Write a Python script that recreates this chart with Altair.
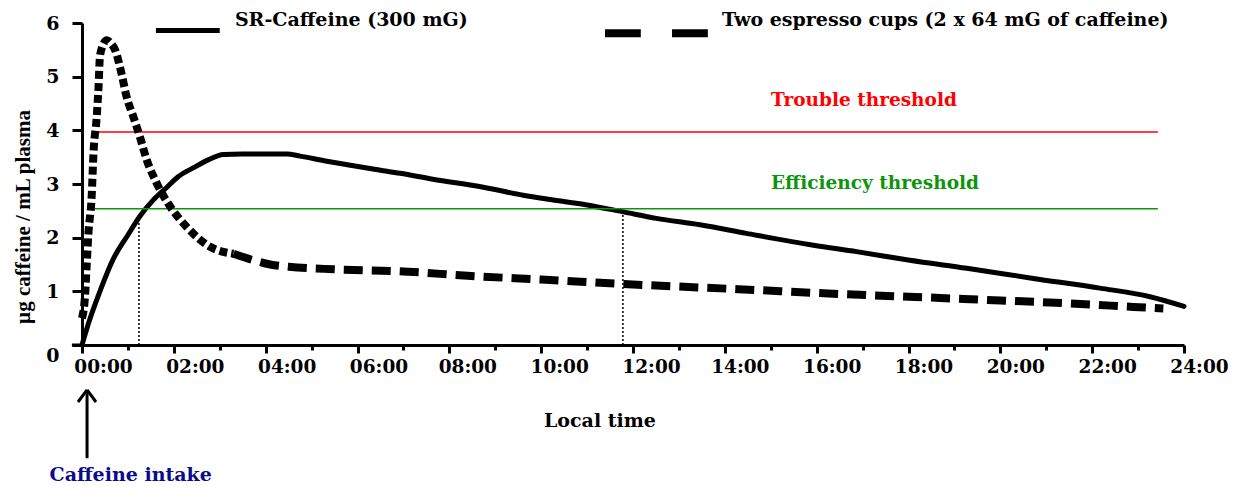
import altair as alt
import pandas as pd

# ---------------- data ----------------
sr_hours = [0, 0.14, 0.39, 0.68, 1.0, 1.26, 1.55, 1.85, 2.1, 2.42, 2.75, 3.08, 3.5, 4.0, 4.46,
            4.75, 5.3, 5.84, 6.4, 6.93, 7.64, 8.74, 9.61, 10.2, 11.0, 11.79, 12.51, 13.46,
            14.47, 15.93, 16.87, 18.03, 19.27, 20.72, 22.17, 23.26, 24.0]
sr_conc = [0, 0.4, 1.0, 1.6, 2.05, 2.4, 2.7, 2.94, 3.14, 3.3, 3.45, 3.55, 3.56, 3.56, 3.56,
           3.52, 3.43, 3.35, 3.27, 3.2, 3.09, 2.94, 2.79, 2.71, 2.61, 2.48, 2.36, 2.24,
           2.08, 1.86, 1.74, 1.58, 1.43, 1.24, 1.06, 0.9, 0.72]

esp_hours = [0, 0.07, 0.1, 0.14, 0.21, 0.25, 0.32, 0.36, 0.39, 0.44, 0.54, 0.63, 0.72, 0.86,
             0.97, 1.12, 1.26, 1.41, 1.63, 1.92, 2.28, 2.79, 3.3, 3.73, 4.1, 4.5, 5.5, 7.0,
             8.4, 10.0, 12.2, 14.3, 16.5, 18.0, 20.0, 21.4, 22.9, 23.55]
esp_conc = [0.5, 0.97, 1.46, 2.08, 2.76, 3.57, 4.25, 4.81, 5.37, 5.55, 5.68, 5.62, 5.5, 5.06,
            4.63, 4.25, 3.88, 3.45, 3.01, 2.58, 2.2, 1.83, 1.7, 1.58, 1.5, 1.46, 1.41, 1.37,
            1.29, 1.22, 1.12, 1.04, 0.95, 0.9, 0.83, 0.78, 0.71, 0.68]

x_tick_values = list(range(0, 25))
y_tick_values = [i * 0.5 for i in range(13)]

series_names = ["SR-Caffeine (300 mG)", "Two espresso cups (2 x 64 mG of caffeine)"]
threshold_names = ["Trouble threshold", "Efficiency threshold"]
threshold_levels = [3.97, 2.54]
threshold_colors = ["#ff0000", "#0a960a"]
crossing_hours = [1.24, 11.78]
crossing_levels = [2.30, 2.48]

# ---------------- layout constants ----------------
W, H = 1102, 322
FONT = "DejaVu Serif"
SPLIT = 3.3

xs = alt.Scale(domain=[0, 24], nice=False, zero=False)
ys = alt.Scale(domain=[0, 6], nice=False, zero=False)


def X(f="h"):
    return alt.X(f"{f}:Q", scale=xs, title=None)


def Y(f="c"):
    return alt.Y(f"{f}:Q", scale=ys, title=None)


x_axis = alt.Axis(
    values=x_tick_values,
    labelExpr="datum.value % 2 == 0 ? ((datum.value < 10 ? '0' : '') + datum.value + ':00') : ''",
    tickSize={"condition": {"test": "datum.value % 2 == 0", "value": 8}, "value": 5},
    labelOffset={"condition": [{"test": "datum.value <= 6", "value": 21},
                               {"test": "datum.value <= 12", "value": 18}], "value": 15},
    tickWidth=3, domainWidth=3, domainColor="black", tickColor="black",
    labelFont=FONT, labelFontWeight="bold", labelFontSize=18.5, labelColor="black",
    labelPadding=4, grid=False, labelOverlap=False, labelFlush=False,
)
y_axis = alt.Axis(
    values=y_tick_values,
    labelExpr="datum.value % 1 == 0 ? format(datum.value, 'd') : ''",
    tickSize={"condition": {"test": "datum.value % 1 == 0", "value": 10}, "value": 5},
    labelOffset={"condition": {"test": "datum.value == 0", "value": 10}, "value": 0},
    tickWidth=3, domainWidth=3, domainColor="black", tickColor="black",
    labelFont=FONT, labelFontWeight="bold", labelFontSize=19, labelColor="black",
    labelPadding=13, grid=False, labelOverlap=False, labelFlush=False,
)

sr = pd.DataFrame({"h": sr_hours, "c": sr_conc})
esp = pd.DataFrame({"h": esp_hours, "c": esp_conc})

sr_line = alt.Chart(sr).mark_line(
    color="black", strokeWidth=5, strokeCap="round", interpolate="monotone"
).encode(
    x=alt.X("h:Q", scale=xs, title=None, axis=x_axis),
    y=alt.Y("c:Q", scale=ys, title=None, axis=y_axis),
)

esp_a = alt.Chart(esp).transform_filter(f"datum.h <= {SPLIT}").mark_line(
    color="black", strokeWidth=8, strokeDash=[8, 4], strokeCap="butt", interpolate="monotone"
).encode(x=X(), y=Y())
esp_b = alt.Chart(esp).transform_filter(f"datum.h >= {SPLIT}").mark_line(
    color="black", strokeWidth=8, strokeDash=[19, 9], strokeCap="butt", interpolate="monotone"
).encode(x=X(), y=Y())

# threshold lines
thr = pd.DataFrame({"name": threshold_names, "c": threshold_levels, "col": threshold_colors,
                    "h": [0.28, 0.28], "h2": [23.43, 23.43]})
thr_rules = alt.Chart(thr).mark_rule(strokeWidth=1.5).encode(
    x=X(), x2="h2:Q", y=Y(), color=alt.Color("col:N", scale=None)
)
thr_text = pd.DataFrame({"name": threshold_names, "col": threshold_colors,
                         "h": [17.03, 17.27], "c": [4.556, 3.01]})
thr_labels = alt.Chart(thr_text).mark_text(
    font=FONT, fontWeight="bold", fontSize=18.5, align="center", baseline="middle"
).encode(x=X(), y=Y(), text="name:N", color=alt.Color("col:N", scale=None))

# vertical dotted crossing lines
cross = pd.DataFrame({"h": crossing_hours, "c": [0, 0], "c2": crossing_levels})
cross_rules = alt.Chart(cross).mark_rule(color="black", strokeWidth=1.5, strokeDash=[2, 2]).encode(
    x=X(), y=Y(), y2="c2:Q"
)

# small extension of x axis line to the left
ext = pd.DataFrame({"h": [-0.22], "h2": [0], "c": [0]})
ext_rule = alt.Chart(ext).mark_rule(color="black", strokeWidth=3).encode(x=X(), x2="h2:Q", y=Y())

# legend
leg_solid = pd.DataFrame({"h": [1.61], "h2": [3.0], "c": [5.86]})
leg_solid_rule = alt.Chart(leg_solid).mark_rule(color="black", strokeWidth=5).encode(
    x=X(), x2="h2:Q", y=Y())
leg_dash = pd.DataFrame({"h": [11.39, 12.85], "h2": [12.17, 13.63], "c": [5.81, 5.81]})
leg_dash_rule = alt.Chart(leg_dash).mark_rule(color="black", strokeWidth=8).encode(
    x=X(), x2="h2:Q", y=Y())
leg_text = pd.DataFrame({"name": series_names, "h": [3.33, 13.94], "c": [6.06, 6.06]})
leg_labels = alt.Chart(leg_text).mark_text(
    font=FONT, fontWeight="bold", fontSize=19, align="left", baseline="middle", color="black"
).encode(x=X(), y=Y(), text="name:N")

# axis titles and annotation
ytitle = pd.DataFrame({"t": ["µg caffeine / mL  plasma"], "h": [-1.26], "c": [2.385]})
ytitle_text = alt.Chart(ytitle).mark_text(
    font="Liberation Serif", fontWeight="bold", fontSize=21, angle=270,
    align="center", baseline="middle", color="black"
).encode(x=X(), y=Y(), text="t:N")

xtitle = pd.DataFrame({"t": ["Local time"], "h": [11.28], "c": [-1.425]})
xtitle_text = alt.Chart(xtitle).mark_text(
    font=FONT, fontWeight="bold", fontSize=19, align="center", baseline="middle", color="black"
).encode(x=X(), y=Y(), text="t:N")

intake = pd.DataFrame({"t": ["Caffeine intake"], "h": [1.06], "c": [-2.43]})
intake_text = alt.Chart(intake).mark_text(
    font=FONT, fontWeight="bold", fontSize=19, align="center", baseline="middle", color="#0a0a8c"
).encode(x=X(), y=Y(), text="t:N")

arrow = pd.DataFrame({"h": [0.11, 0.11, 0.11], "c": [-0.838, -0.838, -0.838],
                      "h2": [0.11, -0.087, 0.305], "c2": [-2.11, -1.062, -1.062]})
arrow_rules = alt.Chart(arrow).mark_rule(color="black", strokeWidth=3).encode(
    x=X(), y=Y(), x2="h2:Q", y2="c2:Q")

chart = alt.layer(
    sr_line, thr_rules, cross_rules, ext_rule, esp_a, esp_b, thr_labels,
    leg_solid_rule, leg_dash_rule, leg_labels, ytitle_text, xtitle_text,
    intake_text, arrow_rules,
).properties(
    width=W, height=H,
    autosize=alt.AutoSizeParams(type="none"),
    padding={"left": 74, "top": 15, "right": 47, "bottom": 141},
    background="white",
).configure_view(stroke=None)

chart.save("out.html", embed_options={"renderer": "svg", "actions": False})
